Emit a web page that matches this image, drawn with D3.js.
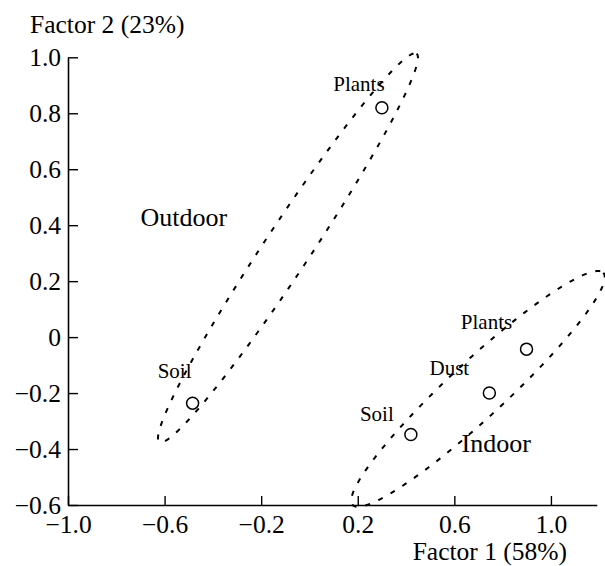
<!DOCTYPE html>
<html>
<head>
<meta charset="utf-8">
<script src="https://cdn.jsdelivr.net/npm/d3@7"></script>
<style>
  html, body { margin: 0; padding: 0; background: #fff; }
  svg { display: block; font-family: "Liberation Serif", "Times New Roman", serif; }
</style>
</head>
<body>
<div id="chart"></div>
<script>
// Factor scores of the samples, grouped by site type
const samples = ["Plants", "Soil", "Plants", "Dust", "Soil"];
const sampleGroup = ["Outdoor", "Outdoor", "Indoor", "Indoor", "Indoor"];
const factor1 = [0.30, -0.484, 0.899, 0.745, 0.420];
const factor2 = [0.82, -0.236, -0.043, -0.20, -0.348];

// Group ellipses (data units): centre, end of major half-axis, end of minor half-axis
const groups = ["Outdoor", "Indoor"];
const ellCenterX = [-0.089, 0.698];
const ellCenterY = [0.319, -0.185];
const ellMajorX = [0.4435, 1.217];
const ellMajorY = [1.013, 0.230];
const ellMinorX = [-0.010, 0.777];
const ellMinorY = [0.273, -0.259];
const groupLabelX = [-0.70, 0.63];
const groupLabelY = [0.398, -0.412];

const xTicks = [-1.0, -0.6, -0.2, 0.2, 0.6, 1.0];
const yTicks = [-0.6, -0.4, -0.2, 0, 0.2, 0.4, 0.6, 0.8, 1.0];
const xTitle = "Factor 1 (58%)";
const yTitle = "Factor 2 (23%)";

const W = 605, H = 566;
const x = d3.scaleLinear().domain([-1.0, 1.19]).range([68, 596.8]);
const y = d3.scaleLinear().domain([-0.6, 1.0]).range([505, 57.3]);

const fmt = (d) => (d === 0 ? "0" : d.toFixed(1).replace("-", "\u2212"));

const svg = d3.select("#chart").append("svg").attr("width", W).attr("height", H);

const styleAxis = (g) => {
  g.attr("font-family", null).attr("font-size", null);
  g.select(".domain").attr("stroke-width", 1.6);
  g.selectAll(".tick line").attr("stroke-width", 1.4);
  g.selectAll(".tick text").attr("font-size", 25.5).attr("fill", "#000");
};

// x axis, ticks pointing up into the plot
svg.append("g")
  .attr("transform", `translate(0, ${y(-0.6)})`)
  .call(d3.axisBottom(x).tickValues(xTicks).tickFormat(fmt).tickSize(-9).tickSizeOuter(0).tickPadding(10))
  .call(styleAxis);

// y axis, ticks pointing right into the plot
svg.append("g")
  .attr("transform", `translate(${x(-1.0)}, 0)`)
  .call(d3.axisLeft(y).tickValues(yTicks).tickFormat(fmt).tickSize(-10).tickSizeOuter(0).tickPadding(7))
  .call(styleAxis);

svg.append("text").attr("x", 30).attr("y", 33).attr("font-size", 25.5).text(yTitle);
svg.append("text").attr("x", 567).attr("y", 560).attr("text-anchor", "end").attr("font-size", 25.5).text(xTitle);

// dashed ellipses, parametrised in data space then mapped through the scales
const ellipsePath = (i) => {
  const pts = d3.range(0, 361, 2).map((deg) => {
    const t = (deg * Math.PI) / 180;
    const dx = Math.cos(t) * (ellMajorX[i] - ellCenterX[i]) + Math.sin(t) * (ellMinorX[i] - ellCenterX[i]);
    const dy = Math.cos(t) * (ellMajorY[i] - ellCenterY[i]) + Math.sin(t) * (ellMinorY[i] - ellCenterY[i]);
    return [x(ellCenterX[i] + dx), y(ellCenterY[i] + dy)];
  });
  return d3.line().curve(d3.curveLinearClosed)(pts);
};

svg.append("g")
  .selectAll("path")
  .data(groups.map((_, i) => i))
  .join("path")
  .attr("d", (i) => ellipsePath(i))
  .attr("fill", "none")
  .attr("stroke", "#000")
  .attr("stroke-width", 2)
  .attr("stroke-dasharray", "5,9");

svg.append("g")
  .selectAll("text")
  .data(groups.map((_, i) => i))
  .join("text")
  .attr("x", (i) => x(groupLabelX[i]))
  .attr("y", (i) => y(groupLabelY[i]))
  .attr("font-size", 26)
  .text((i) => groups[i]);

// sample points
const idx = samples.map((_, i) => i);
svg.append("g")
  .selectAll("circle")
  .data(idx)
  .join("circle")
  .attr("cx", (i) => x(factor1[i]))
  .attr("cy", (i) => y(factor2[i]))
  .attr("r", 6)
  .attr("fill", "#fff")
  .attr("stroke", "#000")
  .attr("stroke-width", 1.5);

// label placement relative to each point (pixels)
const labelOffset = [[-23, -17], [-18, -25], [-40, -20], [-40, -18], [-34, -13]];
svg.append("g")
  .selectAll("text")
  .data(idx)
  .join("text")
  .attr("x", (i) => x(factor1[i]) + labelOffset[i][0])
  .attr("y", (i) => y(factor2[i]) + labelOffset[i][1])
  .attr("text-anchor", "middle")
  .attr("font-size", 21)
  .text((i) => samples[i]);
</script>
</body>
</html>
